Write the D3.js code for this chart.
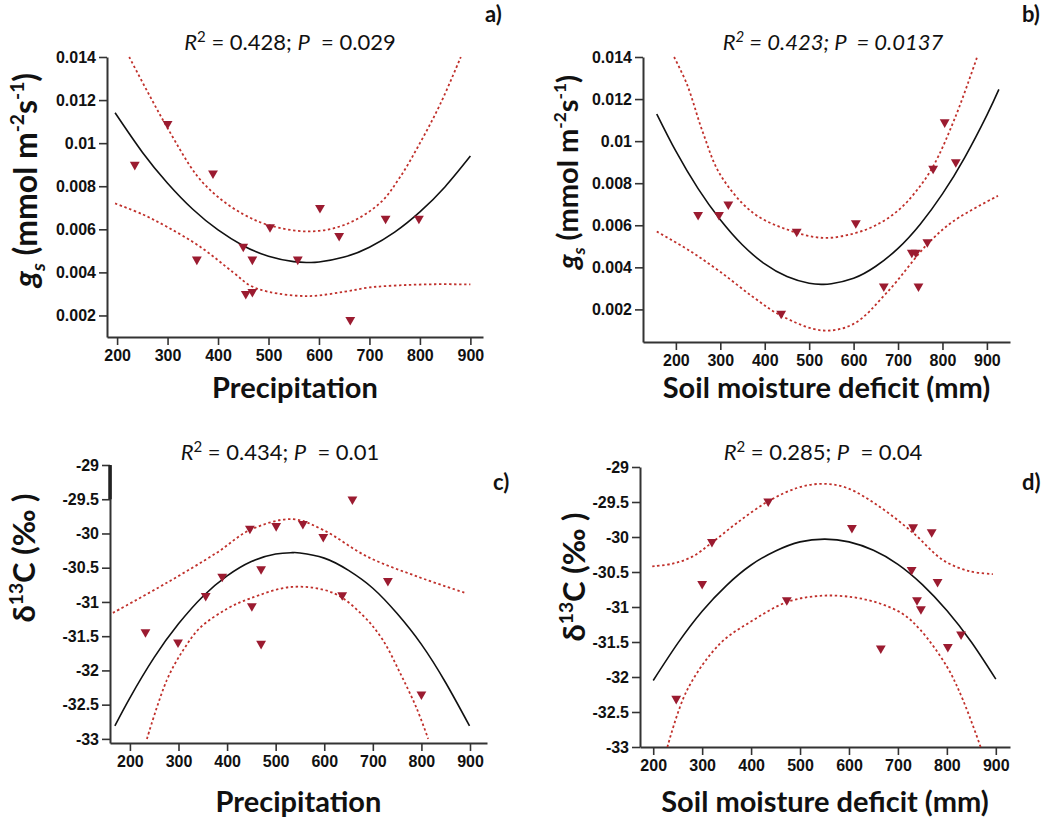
<!DOCTYPE html>
<html><head><meta charset="utf-8">
<script src="https://cdn.jsdelivr.net/npm/d3@7"></script>
<style>body{margin:0;background:#fff} svg{display:block} text{white-space:pre}</style>
</head><body><svg id="chart" width="1050" height="820"></svg>
<script>
// ---------- tick values ----------
const xTickValues = [200, 300, 400, 500, 600, 700, 800, 900];
const gsTickValues = [0.002, 0.004, 0.006, 0.008, 0.01, 0.012, 0.014];
const d13TickValues = [-33, -32.5, -32, -31.5, -31, -30.5, -30, -29.5, -29];

// ---------- panel a: gs vs precipitation ----------
const aPrecip = [235, 300, 358, 390, 450, 455, 468, 468, 503, 558, 602, 640, 662, 732, 798];
const aGs = [0.0090, 0.0109, 0.0046, 0.0086, 0.0052, 0.0030, 0.0046, 0.0031, 0.0061, 0.0046, 0.0070, 0.0057, 0.0018, 0.0065, 0.0065];
const aFit = [[196,0.01141],[250,0.00958],[300,0.00814],[350,0.00693],[400,0.00597],[450,0.00524],[500,0.00475],[550,0.0045],[578,0.00446],[600,0.00448],[650,0.00471],[700,0.00517],[750,0.00587],[800,0.00681],[850,0.00798],[900,0.0094]];
const aUpper = [[224,0.014],[260,0.0124],[300,0.0107],[358,0.0085],[400,0.0075],[450,0.0067],[500,0.0062],[578,0.0059],[650,0.0062],[720,0.0072],[760,0.0084],[800,0.0100],[840,0.0118],[881,0.014]];
const aLower = [[196,0.0072],[250,0.0067],[300,0.0061],[364,0.0052],[430,0.0040],[463,0.0034],[500,0.0031],[578,0.0029],[650,0.0031],[700,0.0033],[760,0.0034],[830,0.00345],[900,0.00344]];
const aStat = {r2: "0.428", p: "0.029"};

// ---------- panel b: gs vs soil moisture deficit ----------
const bSmd = [250, 297, 318, 437, 472, 605, 668, 731, 740, 746, 766, 779, 805, 830];
const bGs = [0.0065, 0.0065, 0.0070, 0.0018, 0.0057, 0.0061, 0.0031, 0.0047, 0.0047, 0.0031, 0.0052, 0.0087, 0.0109, 0.0090];
const bFit = [[157,0.01129],[200,0.00952],[250,0.00774],[300,0.00626],[350,0.00506],[400,0.00416],[450,0.00356],[500,0.00324],[529,0.00319],[550,0.00322],[600,0.00348],[650,0.00405],[700,0.0049],[750,0.00605],[800,0.00749],[850,0.00922],[900,0.01124],[927,0.01246]];
const bUpper = [[196,0.014],[225,0.0127],[261,0.0104],[300,0.0084],[373,0.0066],[450,0.0058],[531,0.0054],[599,0.0056],[650,0.0060],[700,0.0067],[740,0.0076],[779,0.0088],[830,0.0112],[878,0.014]];
const bLower = [[157,0.0057],[230,0.0048],[299,0.0038],[373,0.0026],[437,0.0017],[529,0.0010],[599,0.0013],[675,0.0028],[766,0.0051],[825,0.0062],[925,0.0074]];
const bStat = {r2: "0.423", p: "0.0137"};

// ---------- panel c: d13C vs precipitation ----------
const cPrecip = [232, 299, 356, 390, 447, 451, 470, 470, 501, 556, 598, 637, 658, 731, 800];
const cD13 = [-31.44, -31.59, -30.91, -30.63, -29.93, -31.06, -30.52, -31.61, -29.89, -29.86, -30.05, -30.9, -29.5, -30.69, -32.35];
const cFit = [[169,-32.81],[200,-32.40],[250,-31.81],[300,-31.32],[350,-30.92],[400,-30.62],[450,-30.41],[500,-30.30],[534,-30.28],[550,-30.285],[600,-30.36],[650,-30.54],[700,-30.80],[750,-31.17],[800,-31.62],[850,-32.18],[899,-32.81]];
const cUpper = [[165,-31.16],[276,-30.72],[379,-30.28],[447,-29.95],[534,-29.79],[598,-29.95],[689,-30.34],[792,-30.63],[891,-30.87]];
const cLower = [[235,-33.0],[276,-32.14],[310,-31.7],[344,-31.38],[400,-31.1],[447,-30.95],[534,-30.78],[619,-30.87],[680,-31.2],[720,-31.55],[757,-32.05],[790,-32.55],[814,-33.0]];
const cStat = {r2: "0.434", p: "0.01"};

// ---------- panel d: d13C vs soil moisture deficit ----------
const dSmd = [247, 300, 320, 435, 473, 606, 665, 728, 731, 739, 747, 769, 781, 802, 829];
const dD13 = [-32.31, -30.67, -30.07, -29.49, -30.9, -29.87, -31.59, -30.47, -29.86, -30.9, -31.03, -29.93, -30.64, -31.57, -31.39];
const dFit = [[200,-32.05],[250,-31.52],[300,-31.06],[350,-30.69],[400,-30.40],[450,-30.20],[500,-30.07],[551,-30.03],[600,-30.07],[650,-30.19],[700,-30.39],[750,-30.68],[800,-31.05],[850,-31.50],[900,-32.03]];
const dUpper = [[198,-30.42],[240,-30.38],[280,-30.28],[320,-30.08],[371,-29.8],[435,-29.49],[494,-29.3],[545,-29.24],[596,-29.3],[663,-29.57],[731,-29.94],[792,-30.33],[847,-30.49],[894,-30.53]];
const dLower = [[229,-33],[269,-32.19],[337,-31.52],[404,-31.19],[473,-30.93],[541,-30.84],[608,-30.86],[663,-30.95],[710,-31.1],[745,-31.32],[800,-31.85],[833,-32.33],[869,-33]];
const dStat = {r2: "0.285", p: "0.04"};

// ---------- layout (positions only) ----------
const panels = [
  {id:"a", xs:aPrecip, ys:aGs, fit:aFit, up:aUpper, lo:aLower, stat:aStat, xTitle:"Precipitation", yKind:"gs", yTicks:gsTickValues,
   xDomain:[180,925], yDomain:[0.001,0.014], left:107, right:483, top:57, bottom:337,
   statX:290, statY:50, statItalic:false, tagX:485, tagY:22, xTitleY:398, yTitleX:37, yTitleY:180, yTitleSize:32},
  {id:"b", xs:bSmd, ys:bGs, fit:bFit, up:bUpper, lo:bLower, stat:bStat, xTitle:"Soil moisture deficit (mm)", yKind:"gs", yTicks:gsTickValues,
   xDomain:[126,952], yDomain:[0.00045,0.014], left:643, right:1010, top:57, bottom:342,
   statX:833, statY:50, statItalic:true, tagX:1022, tagY:22, xTitleY:398, yTitleX:578, yTitleY:172, yTitleSize:29},
  {id:"c", xs:cPrecip, ys:cD13, fit:cFit, up:cUpper, lo:cLower, stat:cStat, xTitle:"Precipitation", yKind:"d13", yTicks:d13TickValues,
   xDomain:[159,935], yDomain:[-33.06,-29], left:110, right:487, top:465, bottom:743,
   statX:280, statY:460, statItalic:false, tagX:493, tagY:490, xTitleY:812, yTitleX:35, yTitleY:558, yTitleSize:31},
  {id:"d", xs:dSmd, ys:dD13, fit:dFit, up:dUpper, lo:dLower, stat:dStat, xTitle:"Soil moisture deficit (mm)", yKind:"d13", yTicks:d13TickValues,
   xDomain:[173,929], yDomain:[-33,-29], left:640, right:1010, top:467, bottom:747,
   statX:823, statY:460, statItalic:false, tagX:1022, tagY:490, xTitleY:812, yTitleX:585, yTitleY:577, yTitleSize:31}
];

const svg = d3.select("#chart");
svg.append("rect").attr("width",1050).attr("height",820).attr("fill","#fff");

const tickFont = "'Liberation Sans', Arial, sans-serif";
const textFont = "Lato, 'Open Sans', sans-serif";
const MARK = "#9b1b30", BAND = "#c0302b";

panels.forEach(p => {
  const g = svg.append("g").attr("class","panel-"+p.id);
  const x = d3.scaleLinear().domain(p.xDomain).range([p.left, p.right]);
  const y = d3.scaleLinear().domain(p.yDomain).range([p.bottom, p.top]);

  const xAxis = g.append("g").attr("transform",`translate(0,${p.bottom})`)
    .call(d3.axisBottom(x).tickValues(xTickValues).tickFormat(String).tickSize(8).tickSizeOuter(0).tickPadding(5));
  const yAxis = g.append("g").attr("transform",`translate(${p.left},0)`)
    .call(d3.axisLeft(y).tickValues(p.yTicks).tickFormat(String).tickSize(8).tickSizeOuter(0).tickPadding(3));
  [xAxis, yAxis].forEach(ax => {
    ax.select(".domain").attr("stroke","#333").attr("stroke-width",2);
    ax.selectAll(".tick line").attr("stroke","#333").attr("stroke-width",1.6);
    ax.selectAll(".tick text").attr("fill","#111").style("font-family",tickFont)
      .style("font-weight","bold").style("font-size","16px");
  });
  if (p.id === "c") {
    g.append("line").attr("x1",p.left).attr("x2",p.left)
      .attr("y1",y(-29)).attr("y2",y(-29.5)).attr("stroke","#222").attr("stroke-width",3.5);
  }

  const band = d3.line().x(d=>x(d[0])).y(d=>y(d[1])).curve(d3.curveCatmullRom.alpha(0.5));
  const fitLine = d3.line().x(d=>x(d[0])).y(d=>y(d[1])).curve(d3.curveNatural);
  [p.up, p.lo].forEach(arr => {
    g.append("path").datum(arr).attr("d",band).attr("fill","none")
      .attr("stroke",BAND).attr("stroke-width",1.8).attr("stroke-dasharray","2.4,2.6");
  });
  g.append("path").datum(p.fit).attr("d",fitLine).attr("fill","none")
    .attr("stroke","#111").attr("stroke-width",1.6);

  const tri = d3.symbol().type(d3.symbolTriangle).size(42);
  g.selectAll("path.pt").data(p.xs.map((v,i)=>[v,p.ys[i]])).join("path").attr("class","pt")
    .attr("d",tri).attr("fill",MARK)
    .attr("transform",d=>`translate(${x(d[0])},${y(d[1])}) rotate(180)`);

  // stat title
  const st = g.append("text").attr("x",p.statX).attr("y",p.statY).attr("text-anchor","middle")
    .style("font-family",textFont).style("font-size","22px").attr("fill","#111")
    .style("font-style", p.statItalic ? "italic" : "normal");
  st.append("tspan").text("R").style("font-style","italic");
  st.append("tspan").text("2").attr("dy",-8).style("font-size","15px");
  st.append("tspan").text(` = ${p.stat.r2}; `).attr("dy",8);
  st.append("tspan").text("P").style("font-style","italic");
  st.append("tspan").text(`  = ${p.stat.p}`);

  // panel tag
  g.append("text").attr("x",p.tagX).attr("y",p.tagY).text(p.id+")")
    .style("font-family",textFont).style("font-weight","bold").style("font-size","22px").attr("fill","#111");

  // x title
  g.append("text").attr("x",(p.left+p.right)/2).attr("y",p.xTitleY).attr("text-anchor","middle")
    .text(p.xTitle).style("font-family",textFont).style("font-weight","bold").style("font-size","29px").attr("fill","#111");

  // y title
  const yt = g.append("text").attr("transform",`translate(${p.yTitleX},${p.yTitleY}) rotate(-90)`)
    .attr("text-anchor","middle").style("font-family",textFont).style("font-weight","bold")
    .style("font-size",p.yTitleSize+"px").attr("fill","#111");
  const s = p.yTitleSize;
  if (p.yKind === "gs") {
    yt.append("tspan").text("g").style("font-style","italic");
    yt.append("tspan").text("s").style("font-style","italic").attr("dy",s*0.25).style("font-size",(s*0.6)+"px");
    yt.append("tspan").text(" (mmol m").attr("dy",-s*0.25);
    yt.append("tspan").text("-2").attr("dy",-s*0.4).style("font-size",(s*0.6)+"px");
    yt.append("tspan").text("s").attr("dy",s*0.4);
    yt.append("tspan").text("-1").attr("dy",-s*0.4).style("font-size",(s*0.6)+"px");
    yt.append("tspan").text(")").attr("dy",s*0.4);
  } else {
    yt.append("tspan").text("δ");
    yt.append("tspan").text("13").attr("dy",-s*0.4).style("font-size",(s*0.62)+"px");
    yt.append("tspan").text("C (‰ )").attr("dy",s*0.4);
  }
});
</script></body></html>
